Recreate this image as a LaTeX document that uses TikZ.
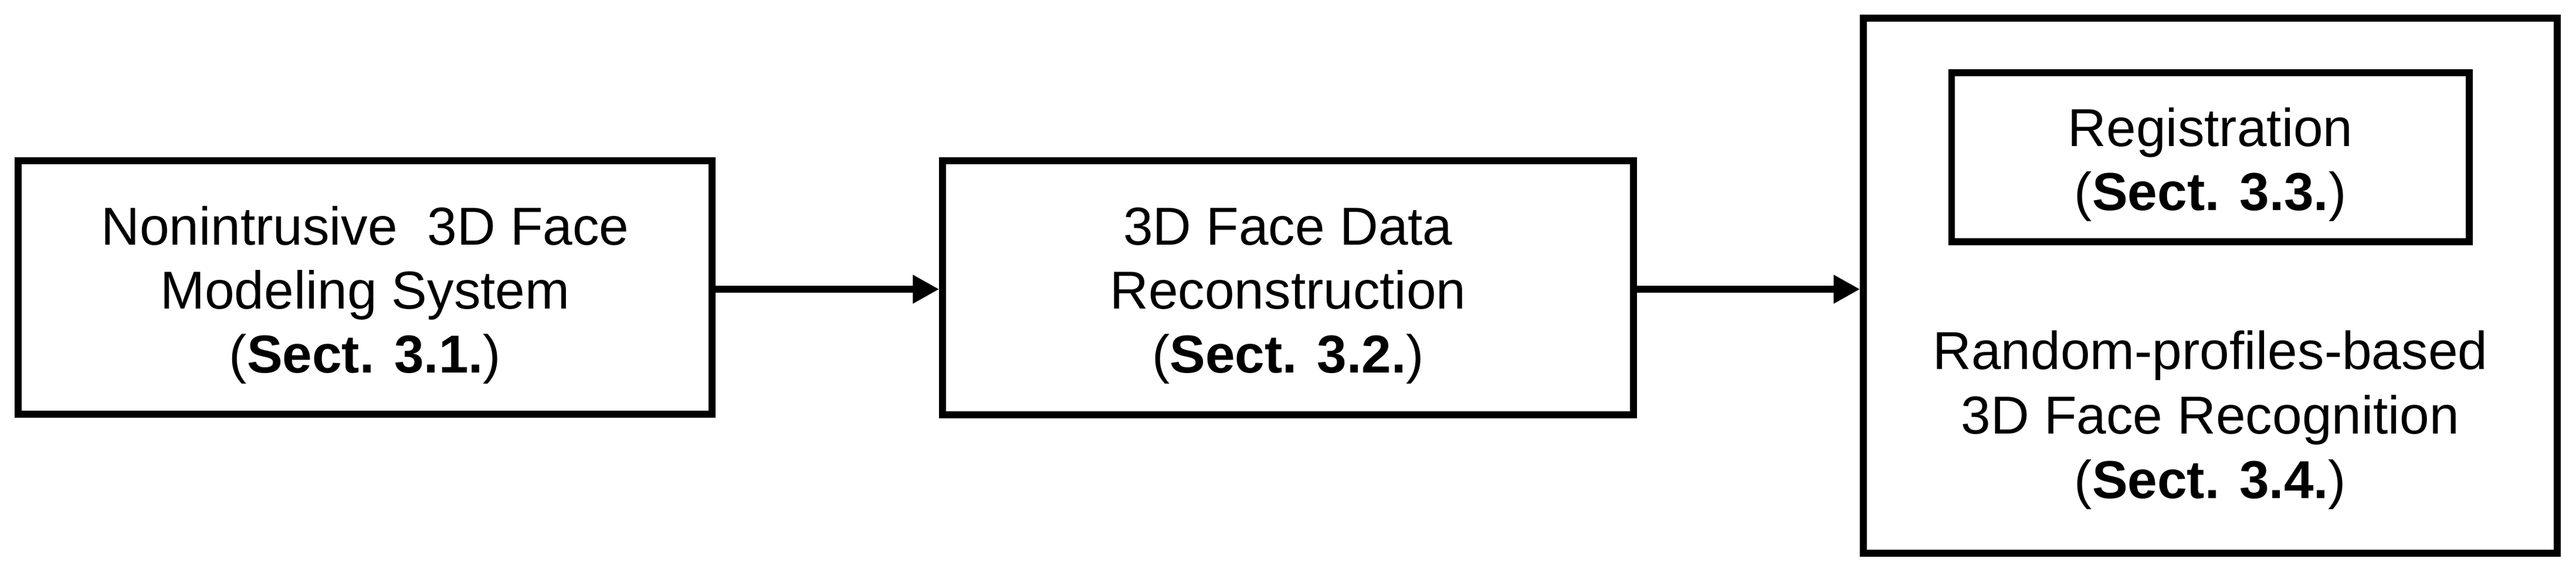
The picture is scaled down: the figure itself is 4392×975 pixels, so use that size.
\documentclass[tikz,border=0pt]{standalone}
\usepackage{fontspec}
\setmainfont{Liberation Sans}
\usetikzlibrary{arrows.meta}
\begin{document}
\begin{tikzpicture}[x=0.1pt,y=-0.1pt,
  boxnode/.style={draw=black, line width=1.15pt, inner sep=0pt, rectangle},
  txt/.style={anchor=base, inner sep=0pt, font=\fontsize{9.1pt}{10.9pt}\selectfont},
  conn/.style={line width=1.15pt, -{Triangle[length=4.5pt,width=4.6pt]}}]
\useasboundingbox (0,0) rectangle (4392,975);
% boxes
\node[boxnode, minimum width=118.3pt, minimum height=43.2pt] (b1) at (622.5,490) {};
\node[boxnode, minimum width=117.8pt, minimum height=43.3pt] (b2) at (2196,490.5) {};
\node[boxnode, minimum width=118.3pt, minimum height=91.2pt] (b3) at (3768.5,487) {};
\node[boxnode, minimum width=88.25pt, minimum height=28.8pt] (b3in) at (3768.75,268) {};
% texts box 1
\node[txt] (t1a) at (622.5,418) {Nonintrusive\ \ 3D Face};
\node[txt] (t1b) at (622.5,527) {Modeling System};
\node[txt] (t1c) at (622.5,636) {(\textbf{Sect. 3.1.})};
% texts box 2
\node[txt] (t2a) at (2196,418) {3D Face Data};
\node[txt] (t2b) at (2196,527) {Reconstruction};
\node[txt] (t2c) at (2196,636) {(\textbf{Sect. 3.2.})};
% texts inner box
\node[txt] (t3a) at (3768.75,250) {Registration};
\node[txt] (t3b) at (3768.75,359) {(\textbf{Sect. 3.3.})};
% texts box 3
\node[txt] (t4a) at (3768.5,630) {Random-profiles-based};
\node[txt] (t4b) at (3768.5,740) {3D Face Recognition};
\node[txt] (t4c) at (3768.5,850) {(\textbf{Sect. 3.4.})};
% connectors
\coordinate (ay) at (0,493);
\draw[conn] (b1.east |- ay) -- (b2.west |- ay);
\draw[conn] (b2.east |- ay) -- (b3.west |- ay);
\end{tikzpicture}
\end{document}
